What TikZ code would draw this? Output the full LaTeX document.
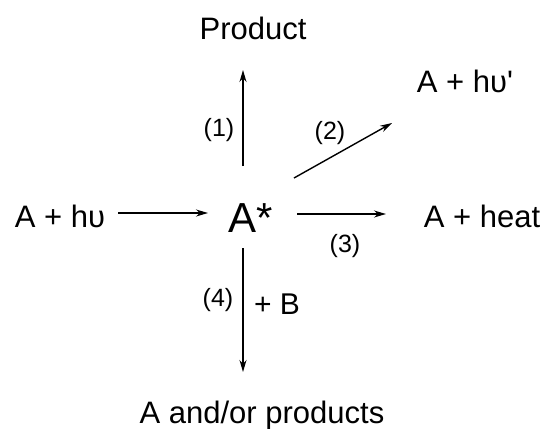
\documentclass[tikz,border=0pt]{standalone}
\usepackage{fontspec}
\setmainfont{Liberation Sans}
\newfontfamily\rawfont{Liberation Sans}
\usetikzlibrary{arrows.meta}
\begin{document}
\begin{tikzpicture}[x=1pt,y=1pt,
  txt/.style={font=\fontsize{31}{36}\selectfont, inner sep=0pt, anchor=base},
  big/.style={font=\fontsize{42}{48}\selectfont, inner sep=0pt, anchor=base},
  lbl/.style={font=\fontsize{25}{30}\selectfont, inner sep=0pt},
  arr/.style={line width=1.4pt, -{Stealth[length=12pt,width=7pt]}}]
\useasboundingbox (0,0) rectangle (547,-429);
\node[big] (astar) at (251,-232) {A*};
\node[txt] (prod) at (253,-39) {Product};
\node[txt] (ahv2) at (465,-92) {A + hυ{\rawfont '}};
\node[txt] (ahv) at (60,-227) {A + hυ};
\node[txt] (aheat) at (482,-227) {A + heat};
\node[txt] (aor) at (262,-423) {A and/or products};
\node[lbl] (l1) at (219,-130) {(1)};
\node[lbl] (l2) at (330,-133) {(2)};
\node[lbl] (l3) at (345,-246) {(3)};
\node[lbl] (l4) at (218,-300) {(4)};
\node[font=\fontsize{30}{36}\selectfont, inner sep=0pt, anchor=base] (pb) at (277,-314) {+ B};
\coordinate (s0) at (118,-213); \coordinate (e0) at (208,-213);
\coordinate (s1) at (243,-166); \coordinate (e1) at (243,-70);
\coordinate (s2) at (294,-178); \coordinate (e2) at (392,-123);
\coordinate (s3) at (297,-214); \coordinate (e3) at (386,-214);
\coordinate (s4) at (243,-248); \coordinate (e4) at (243,-372);
\draw[arr] (s0) -- (e0);
\draw[arr] (s1) -- (e1);
\draw[arr] (s2) -- (e2);
\draw[arr] (s3) -- (e3);
\draw[arr] (s4) -- (e4);
\end{tikzpicture}
\end{document}
